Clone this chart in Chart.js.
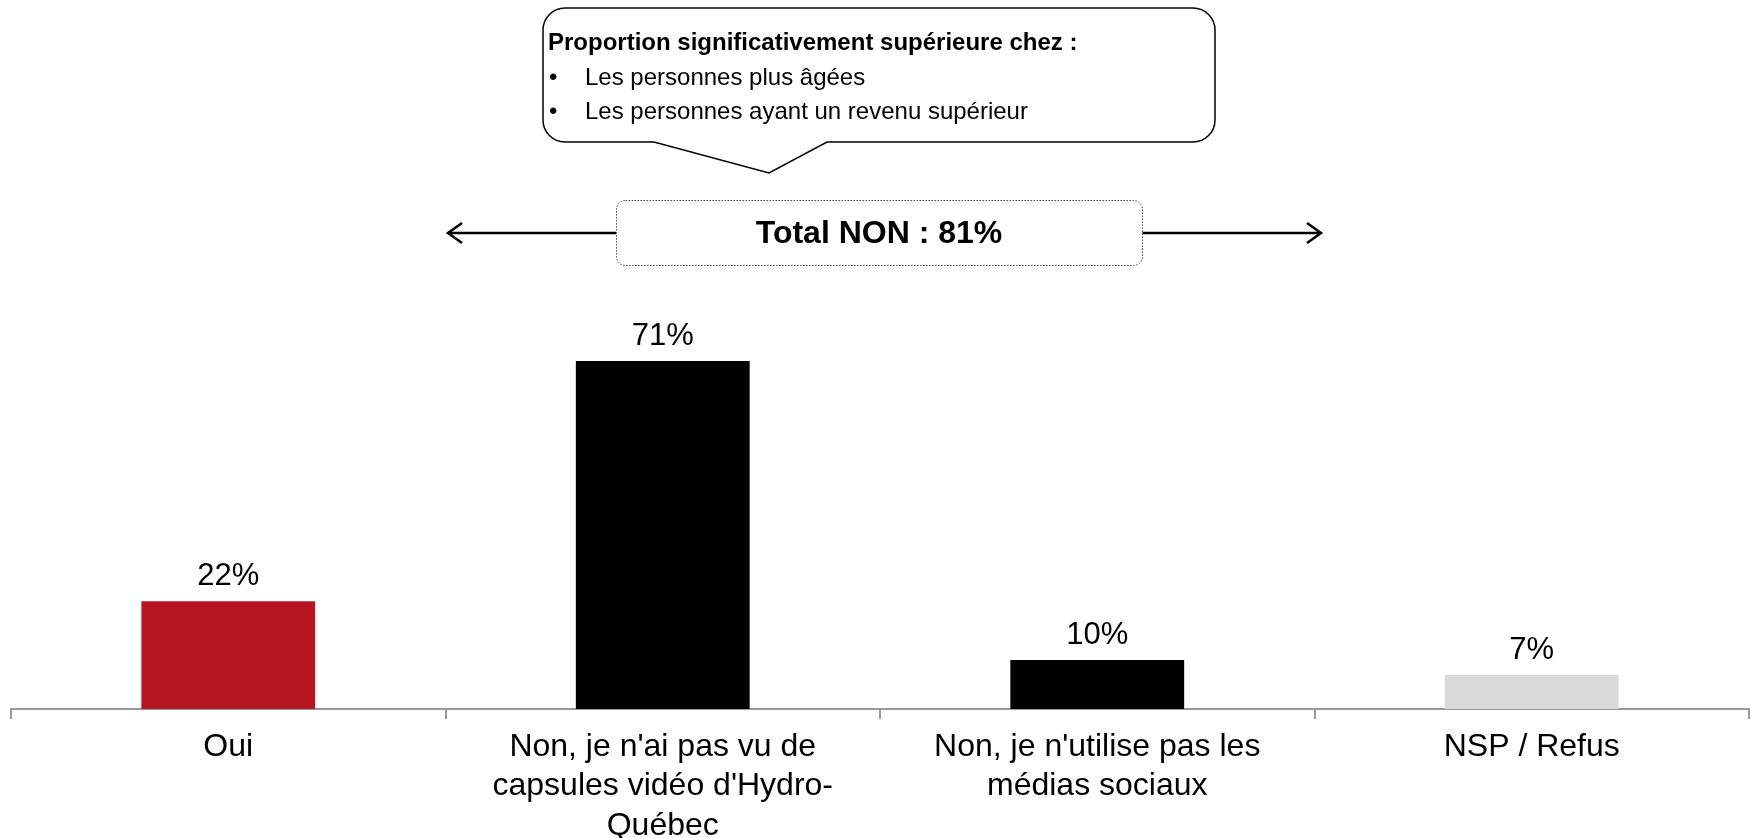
<!DOCTYPE html>
<html>
<head>
<meta charset="utf-8">
<script src="https://cdn.jsdelivr.net/npm/chart.js@4"></script>
<style>
html,body{margin:0;padding:0;background:#fff;}
canvas{display:block;}
</style>
</head>
<body>
<canvas id="c" width="1752" height="838"></canvas>
<script>
const categories = [
  ["Oui"],
  ["Non, je n'ai pas vu de", "capsules vidéo d'Hydro-", "Québec"],
  ["Non, je n'utilise pas les", "médias sociaux"],
  ["NSP / Refus"]
];
const values = [22, 71, 10, 7];
const barColors = ["#B71522", "#000000", "#000000", "#D9D9D9"];
const calloutTitle = "Proportion significativement supérieure chez :";
const calloutItems = ["Les personnes plus âgées", "Les personnes ayant un revenu supérieur"];
const totalLabel = "Total NON : 81%";

const FONT = '"Liberation Sans", Arial, sans-serif';

function roundRect(ctx, x, y, w, h, r) {
  ctx.beginPath();
  ctx.moveTo(x + r, y);
  ctx.lineTo(x + w - r, y);
  ctx.arcTo(x + w, y, x + w, y + r, r);
  ctx.lineTo(x + w, y + h - r);
  ctx.arcTo(x + w, y + h, x + w - r, y + h, r);
  ctx.lineTo(x + r, y + h);
  ctx.arcTo(x, y + h, x, y + h - r, r);
  ctx.lineTo(x, y + r);
  ctx.arcTo(x, y, x + r, y, r);
  ctx.closePath();
}

const overlay = {
  id: 'overlay',
  afterDatasetsDraw(chart) {
    const ctx = chart.ctx;
    // value labels
    const meta = chart.getDatasetMeta(0);
    ctx.save();
    ctx.fillStyle = '#000';
    ctx.font = '31px ' + FONT;
    ctx.textAlign = 'center';
    ctx.textBaseline = 'alphabetic';
    meta.data.forEach((bar, i) => {
      ctx.fillText(values[i] + '%', bar.x, bar.y - 16);
    });
    ctx.restore();

    // callout bubble
    ctx.save();
    ctx.lineWidth = 1.5;
    ctx.strokeStyle = '#000';
    ctx.fillStyle = '#fff';
    const bx = 543, by = 8, bw = 672, bh = 134, r = 22;
    ctx.beginPath();
    ctx.moveTo(bx + r, by);
    ctx.lineTo(bx + bw - r, by);
    ctx.arcTo(bx + bw, by, bx + bw, by + r, r);
    ctx.lineTo(bx + bw, by + bh - r);
    ctx.arcTo(bx + bw, by + bh, bx + bw - r, by + bh, r);
    ctx.lineTo(827, by + bh);
    ctx.lineTo(769, 173);
    ctx.lineTo(654, by + bh);
    ctx.lineTo(bx + r, by + bh);
    ctx.arcTo(bx, by + bh, bx, by + bh - r, r);
    ctx.lineTo(bx, by + r);
    ctx.arcTo(bx, by, bx + r, by, r);
    ctx.closePath();
    ctx.fill();
    ctx.stroke();
    ctx.fillStyle = '#000';
    ctx.textAlign = 'left';
    ctx.textBaseline = 'middle';
    ctx.font = 'bold 24px ' + FONT;
    ctx.fillText(calloutTitle, 548, 43);
    ctx.font = '24px ' + FONT;
    calloutItems.forEach((t, i) => {
      const y = 78 + i * 34;
      ctx.fillText('•', 549, y);
      ctx.fillText(t, 585, y);
    });
    ctx.restore();

    // total box with arrows
    ctx.save();
    ctx.strokeStyle = '#000';
    ctx.lineWidth = 2.5;
    ctx.beginPath();
    ctx.moveTo(616, 233); ctx.lineTo(448, 233);
    ctx.moveTo(462, 223); ctx.lineTo(448, 233); ctx.lineTo(462, 243);
    ctx.moveTo(1142, 233); ctx.lineTo(1321, 233);
    ctx.moveTo(1307, 223); ctx.lineTo(1321, 233); ctx.lineTo(1307, 243);
    ctx.stroke();
    ctx.lineWidth = 1;
    ctx.strokeStyle = '#444';
    ctx.setLineDash([1.5, 1.5]);
    roundRect(ctx, 616.5, 200.5, 526, 65, 9);
    ctx.fillStyle = '#fff';
    ctx.fill();
    ctx.stroke();
    ctx.setLineDash([]);
    ctx.fillStyle = '#000';
    ctx.font = 'bold 32px ' + FONT;
    ctx.textAlign = 'center';
    ctx.textBaseline = 'middle';
    ctx.fillText(totalLabel, 879, 234);
    ctx.restore();
  }
};

new Chart(document.getElementById('c'), {
  type: 'bar',
  data: {
    labels: categories,
    datasets: [{
      data: values,
      backgroundColor: barColors,
      borderWidth: 0,
      categoryPercentage: 0.4,
      barPercentage: 1.0
    }]
  },
  options: {
    responsive: false,
    animation: false,
    devicePixelRatio: 1,
    layout: { padding: { top: 219, left: 11, right: 3, bottom: 0 } },
    plugins: { legend: { display: false }, tooltip: { enabled: false } },
    scales: {
      y: { display: false, min: 0, max: 100 },
      x: {
        afterFit(scale) { scale.height = 129; },
        border: { display: true, color: '#999', width: 2 },
        grid: { display: true, offset: true, drawOnChartArea: false, drawTicks: true, tickLength: 10, color: '#999', lineWidth: 2 },
        ticks: { color: '#000', font: { family: FONT, size: 32, lineHeight: 1.24 }, padding: 8, maxRotation: 0, autoSkip: false }
      }
    }
  },
  plugins: [overlay]
});
</script>
</body>
</html>
